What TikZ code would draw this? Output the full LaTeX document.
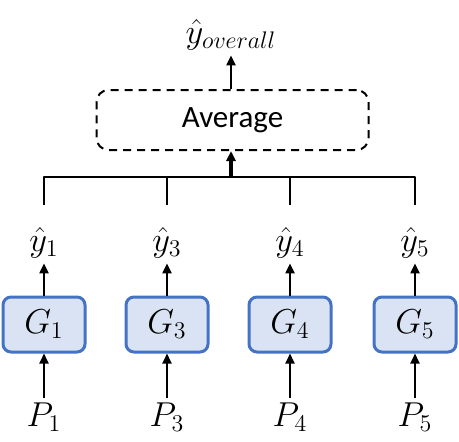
\documentclass[tikz,border=0pt]{standalone}
\usepackage{fontspec}
\setmainfont{Carlito}
\usetikzlibrary{arrows.meta}
\definecolor{gfill}{HTML}{DAE3F3}
\definecolor{gline}{HTML}{4472C4}
\tikzset{
  gbox/.style={draw=gline, fill=gfill, line width=1.5pt, rounded corners=4pt,
    minimum width=41pt, minimum height=27.5pt, inner sep=0pt},
  avgbox/.style={draw, dashed, line width=1pt, rounded corners=6pt,
    minimum width=136pt, minimum height=30pt, dash pattern=on 4pt off 3pt},
  lbl/.style={inner sep=2pt, font=\fontsize{17}{20}\selectfont}
}
\begin{document}
\begin{tikzpicture}[x=0.5pt, y=0.5pt, line join=round, line width=1pt, >={Triangle[length=5pt,width=4.5pt]}]
  \useasboundingbox (0,0) rectangle (459,441);
  \node[avgbox, font=\fontsize{15.5}{18}\selectfont] (avg) at (232.5,321) {Average};
  \node[lbl] (yall) at (231,406) {$\hat{y}_{overall}$};
  \draw[->] (avg.north -| yall) -- (yall);
  \coordinate (bar) at (231,264);
  \foreach \i/\x/\k in {1/44/1, 2/167/3, 3/290/4, 4/415/5} {
    \node[gbox] (g\i) at (\x,116.5) {\fontsize{17}{20}\selectfont$G_{\k}$};
    \node[lbl] (y\i) at (\x,198) {$\hat{y}_{\k}$};
    \node[lbl] (p\i) at (\x,24) {$P_{\k}$};
    \coordinate (t\i) at (\x,236);
    \draw[->] (p\i) -- (g\i);
    \draw[->] (g\i) -- (y\i);
  }
  % collecting bar
  \draw (t1) |- (bar) -| (t4);
  \draw (t2) -- (t2 |- bar);
  \draw (t3) -- (t3 |- bar);
  \draw[->, line width=1.8pt] (bar) -- (avg.south -| bar);
\end{tikzpicture}
\end{document}
